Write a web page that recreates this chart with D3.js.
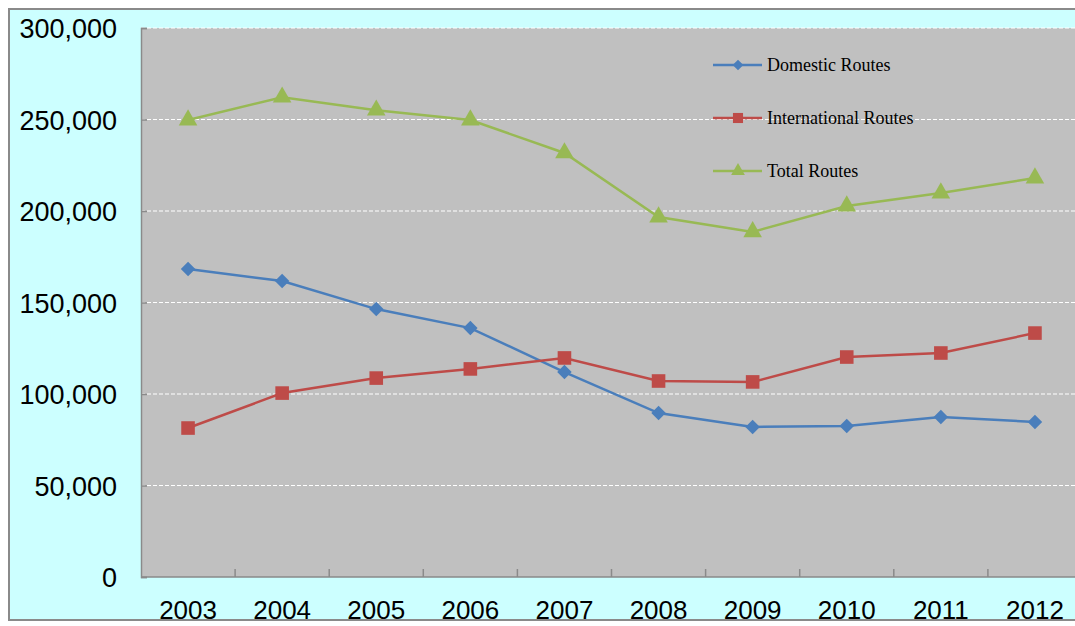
<!DOCTYPE html>
<html>
<head>
<meta charset="utf-8">
<script src="https://cdn.jsdelivr.net/npm/d3@7"></script>
<style>
  body { margin: 0; background: #fff; }
  svg { display: block; }
</style>
</head>
<body>
<svg id="chart" width="1075" height="626"></svg>
<script>
// values
const years = ['2003','2004','2005','2006','2007','2008','2009','2010','2011','2012']
const domestic = [168300, 161700, 146400, 136000, 112000, 89600, 82000, 82500, 87400, 84700]
const international = [81400, 100500, 108700, 113700, 119700, 107100, 106600, 120200, 122400, 133300]
const total = [249700, 262200, 255100, 249700, 231700, 196700, 188600, 202700, 209800, 218000]
const yTicks = [0, 50000, 100000, 150000, 200000, 250000, 300000]

// diamond = square turned 45deg (d3's symbolDiamond is too tall)
const series = [
  {name: 'Domestic Routes', values: domestic, color: '#4a7ebb', shape: d3.symbolSquare, rot: 45, size: 105},
  {name: 'International Routes', values: international, color: '#be4b48', shape: d3.symbolSquare, rot: 0, size: 185},
  {name: 'Total Routes', values: total, color: '#98b954', shape: d3.symbolTriangle, rot: 0, size: 150}
]

const svg = d3.select('#chart')

// outer frame
svg.append('rect')
  .attr('x', 9).attr('y', 9).attr('width', 1080).attr('height', 611)
  .attr('fill', '#ccffff').attr('stroke', '#8a8a8a').attr('stroke-width', 2)

const plotL = 141, plotT = 28, plotB = 577, plotR = 1082

const x = d3.scaleBand().domain(years).range([plotL, plotR])
const y = d3.scaleLinear().domain([0, 300000]).range([plotB, plotT])

svg.append('rect')
  .attr('x', plotL).attr('y', plotT)
  .attr('width', plotR - plotL).attr('height', plotB - plotT)
  .attr('fill', '#c0c0c0')

// gridlines
svg.append('g').selectAll('line')
  .data(yTicks.filter(d => d > 0))
  .enter().append('line')
  .attr('x1', plotL).attr('x2', plotR)
  .attr('y1', d => y(d)).attr('y2', d => y(d))
  .attr('stroke', '#fff').attr('stroke-width', 1.2)
  .attr('stroke-dasharray', '4,2')

// y axis
const yAxis = svg.append('g')
  .attr('transform', `translate(${plotL},0)`)
  .call(d3.axisLeft(y).tickValues(yTicks).tickSize(-6).tickPadding(24)
    .tickFormat(d3.format(',')))
yAxis.select('.domain').attr('stroke', '#8a8a8a').attr('stroke-width', 1.5)
yAxis.selectAll('.tick line').attr('stroke', '#8a8a8a').attr('stroke-width', 1.5)
yAxis.selectAll('text')
  .attr('font-family', 'Liberation Sans, Arial, sans-serif')
  .attr('font-size', 27).attr('fill', '#000')
  .attr('dy', '0.36em')

// x axis
svg.append('line')
  .attr('x1', plotL).attr('x2', plotR).attr('y1', plotB).attr('y2', plotB)
  .attr('stroke', '#8a8a8a').attr('stroke-width', 1.5)
svg.append('g').selectAll('line')
  .data(years.slice(1))
  .enter().append('line')
  .attr('x1', d => x(d)).attr('x2', d => x(d))
  .attr('y1', plotB).attr('y2', plotB - 8)
  .attr('stroke', '#8a8a8a').attr('stroke-width', 1.5)
svg.append('g').selectAll('text')
  .data(years)
  .enter().append('text')
  .attr('x', d => x(d) + x.bandwidth() / 2)
  .attr('y', 619)
  .attr('text-anchor', 'middle')
  .attr('font-family', 'Liberation Sans, Arial, sans-serif')
  .attr('font-size', 26)
  .text(d => d)

// lines + markers
const line = d3.line()
  .x((d, i) => x(years[i]) + x.bandwidth() / 2)
  .y(d => y(d))

series.forEach(s => {
  svg.append('path')
    .attr('d', line(s.values))
    .attr('fill', 'none')
    .attr('stroke', s.color).attr('stroke-width', 2.5)
  svg.append('g').selectAll('path')
    .data(s.values)
    .enter().append('path')
    .attr('transform', (d, i) => `translate(${x(years[i]) + x.bandwidth() / 2},${y(d)}) rotate(${s.rot})`)
    .attr('d', d3.symbol().type(s.shape).size(s.size))
    .attr('fill', s.color)
})

// legend
const legend = svg.append('g').selectAll('g')
  .data(series)
  .enter().append('g')
  .attr('transform', (d, i) => `translate(713,${65 + i * 53})`)
legend.append('line')
  .attr('x1', 0).attr('x2', 49)
  .attr('stroke', d => d.color).attr('stroke-width', 2.5)
legend.append('path')
  .attr('transform', d => `translate(25,0) rotate(${d.rot})`)
  .attr('d', d => d3.symbol().type(d.shape).size(d.size * 0.55)())
  .attr('fill', d => d.color)
legend.append('text')
  .attr('x', 54).attr('dy', '0.35em')
  .attr('font-family', 'Liberation Serif, Times New Roman, serif')
  .attr('font-size', 18)
  .text(d => d.name)
</script>
</body>
</html>
